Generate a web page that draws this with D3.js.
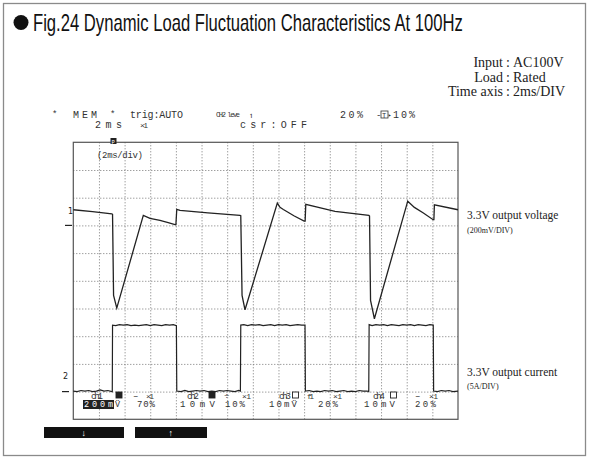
<!DOCTYPE html>
<html><head><meta charset="utf-8">
<script src="https://cdn.jsdelivr.net/npm/d3@7"></script>
<style>body{margin:0;background:#fff}svg{display:block}</style>
</head><body><svg id="c" width="589" height="472"></svg>
<script>
// ---- data ----
// Channel 1: 3.3V output voltage, mV relative to marker "1" (200 mV/div)
const voltT  = [0, 1.5, 3.0, 3.06, 3.14, 3.39, 5.46, 5.98, 6.76, 7.4, 7.93, 8.0, 8.07, 8.32, 10.5, 13.0, 13.06, 13.16, 13.39, 15.91, 16.12, 16.38, 17.2, 18.0, 18.08, 18.13, 20.41, 23.05, 23.1, 23.18, 23.48, 26.08, 26.6, 27.3, 28.06, 28.12, 28.16, 30];
const voltMV = [113, 100, 84, 80, -505, -597, 72, 51, 36, 20, 5, 5, 116, 108, 90, 72, 70, -505, -609, 161, 130, 115, 70, 31, 31, 152, 101, 72, 68, -542, -674, 175, 130, 90, 41, 41, 149, 113];
// Channel 2: 3.3V output current, A relative to marker "2" (5 A/div)
const currT = [0,0.3,0.6,0.9,1.2,1.5,1.8,2.1,2.4,2.7,3.0,3.04,3.06,
  3.3,3.6,3.9,4.2,4.5,4.8,5.1,5.4,5.7,6.0,6.3,6.6,6.9,7.2,7.5,7.8,8.04,8.07,
  8.4,8.7,9.0,9.3,9.6,9.9,10.2,10.5,10.8,11.1,11.4,11.7,12.0,12.3,12.6,12.9,13.03,13.06,
  13.3,13.6,13.9,14.2,14.5,14.8,15.1,15.4,15.7,16.0,16.3,16.6,16.9,17.2,17.5,17.8,18.07,18.1,
  18.4,18.7,19.0,19.3,19.6,19.9,20.2,20.5,20.8,21.1,21.4,21.7,22.0,22.3,22.6,22.9,23.04,23.07,
  23.3,23.6,23.9,24.2,24.5,24.8,25.1,25.4,25.7,26.0,26.3,26.6,26.9,27.2,27.5,27.8,28.07,28.1,
  28.4,28.7,29.0,29.3,29.6,30.0];
const currA = [0.1,0.0,0.2,0.1,0.2,0.0,0.1,0.3,0.1,0.2,0.0,0.0,12.0,
  11.9,12.1,12.0,12.1,11.9,12.0,11.9,12.0,12.1,11.9,12.1,12.0,11.9,12.1,12.0,12.1,11.9,0.1,
  0.0,0.2,0.0,0.1,0.2,0.1,0.2,0.0,0.1,0.0,0.2,0.1,0.2,0.1,0.0,0.2,0.1,12.0,
  12.1,11.9,12.1,12.0,12.1,11.9,12.0,12.1,11.9,12.1,12.0,12.1,11.9,12.0,12.1,12.0,12.0,0.1,
  0.2,0.0,0.1,0.0,0.2,0.1,0.2,0.0,0.1,0.2,0.0,0.1,0.0,0.2,0.1,0.1,0.0,12.1,
  11.9,12.1,12.0,12.1,11.9,12.1,12.0,11.9,12.1,12.0,12.1,11.9,12.1,12.0,11.9,12.1,12.0,0.1,
  0.0,0.2,0.1,0.2,0.0,0.1];
const timeDomain = [0, 30];      // ms, 2 ms/div x 15 div
const divDomain = [0, 10];       // vertical divisions
const ch1Ref = 7, ch2Ref = 1;    // marker positions in divisions
const mVperDiv = 200, AperDiv = 5;
const title = "Fig.24  Dynamic Load Fluctuation Characteristics At 100Hz";
const conditions = [["Input", "AC100V"], ["Load", "Rated"], ["Time axis", "2ms/DIV"]];

// ---- drawing ----
const svg = d3.select("#c");
const X0 = 73.3, X1 = 458, Y0 = 142.3, Y1 = 419.3;
const x = d3.scaleLinear().domain(timeDomain).range([X0, X1]);
const y = d3.scaleLinear().domain(divDomain).range([Y1, Y0]);

svg.append("rect").attr("x", 3.5).attr("y", 3.5).attr("width", 582).attr("height", 452)
  .attr("fill", "none").attr("stroke", "#8a8a8a").attr("stroke-width", 1.3);

// title (condensed by horizontal scaling to the reference width)
svg.append("circle").attr("cx", 21).attr("cy", 22.5).attr("r", 7.5).attr("fill", "#111");
const tg = svg.append("g");
const tt = tg.append("text").attr("x", 0).attr("y", 0).text(title)
  .attr("font-family", "'Liberation Sans',Arial,sans-serif")
  .attr("font-size", 23).attr("fill", "#111");
const tw = tt.node().getComputedTextLength();
tg.attr("transform", `translate(33,31) scale(${430 / tw},1)`);

// conditions
const cg = svg.append("g").attr("font-family", "'Liberation Serif','DejaVu Serif',serif")
  .attr("font-size", 14).attr("fill", "#222");
conditions.forEach((c, i) => {
  const yy = 67 + i * 14.5;
  cg.append("text").attr("x", 503).attr("y", yy).attr("text-anchor", "end").text(c[0]);
  cg.append("text").attr("x", 508).attr("y", yy).attr("text-anchor", "middle").text(":");
  cg.append("text").attr("x", 513).attr("y", yy).text(c[1]);
});

// grid via axes
const gx = svg.append("g").attr("transform", `translate(0,${Y1})`)
  .call(d3.axisBottom(x).tickValues(d3.range(2, 30, 2)).tickSize(-(Y1 - Y0)).tickFormat(""));
const gy = svg.append("g").attr("transform", `translate(${X0},0)`)
  .call(d3.axisLeft(y).tickValues(d3.range(1, 10)).tickSize(-(X1 - X0)).tickFormat(""));
[gx, gy].forEach(g => {
  g.select(".domain").remove();
  g.selectAll("line").attr("stroke", "#777").attr("stroke-width", 1).attr("stroke-dasharray", "1,2");
});

// frame
svg.append("rect").attr("x", X0).attr("y", Y0).attr("width", X1 - X0).attr("height", Y1 - Y0)
  .attr("fill", "none").attr("stroke", "#555").attr("stroke-width", 1.2);

// traces
const line = d3.line().x(d => x(d[0])).y(d => y(d[1]));
svg.append("path").datum(voltT.map((t, i) => [t, ch1Ref + voltMV[i] / mVperDiv]))
  .attr("d", line).attr("fill", "none").attr("stroke", "#222").attr("stroke-width", 1.3);
svg.append("path").datum(currT.map((t, i) => [t, ch2Ref + currA[i] / AperDiv]))
  .attr("d", line).attr("fill", "none").attr("stroke", "#222").attr("stroke-width", 1.2);

// channel markers
const mk = svg.append("g").attr("font-family", "'DejaVu Sans',sans-serif").attr("font-size", 8).attr("fill", "#222");
mk.append("text").attr("x", 68).attr("y", y(ch1Ref) - 11).text("1");
mk.append("line").attr("x1", 65).attr("x2", 72).attr("y1", y(ch1Ref)).attr("y2", y(ch1Ref)).attr("stroke", "#222").attr("stroke-width", 1.2);
mk.append("text").attr("x", 63).attr("y", y(ch2Ref) - 13).text("2");
mk.append("line").attr("x1", 62).attr("x2", 69).attr("y1", y(ch2Ref)).attr("y2", y(ch2Ref)).attr("stroke", "#222").attr("stroke-width", 1.2);

// scope text helper (letter-spaced monospace)
function st(xp, yp, s, size, len, fill) {
  const t = svg.append("text").attr("x", xp).attr("y", yp).text(s)
    .attr("font-family", "'Liberation Mono','DejaVu Sans Mono',monospace")
    .attr("font-size", size).attr("fill", fill || "#333");
  if (len) t.attr("textLength", len).attr("lengthAdjust", "spacing");
  return t;
}
// header
st(52, 117, "*", 9);
st(73, 118, "MEM", 10, 24);
st(110, 117, "*", 9);
st(130, 118, "trig:AUTO", 10, 53);
st(216, 117, "CH2 leve", 7, 24);
st(249, 118, "↿", 8);
st(340, 118, "20%", 10, 23);
st(376, 118, "-", 9);
svg.append("rect").attr("x", 381).attr("y", 111).attr("width", 7).attr("height", 7).attr("fill", "none").attr("stroke", "#333").attr("stroke-width", 0.8);
st(382, 117.5, "T", 7);
st(388, 117, "▸", 6);
st(393, 118, "10%", 10, 22);
st(95, 127.5, "2ms", 10, 27);
st(140, 127.5, "×1", 8, 8);
st(240, 127.5, "csr:OFF", 10, 67);

// trigger position marker and timebase
svg.append("rect").attr("x", 110.5).attr("y", 138).attr("width", 6).attr("height", 6).attr("fill", "#222");
st(111.5, 143.5, "P", 5.5, null, "#fff");
st(97, 158, "(2ms/div)", 9, 46);

// bottom status rows
const r1 = 398.5, r2 = 407;
function box(xp, filled) {
  svg.append("rect").attr("x", xp).attr("y", 392).attr("width", 6).attr("height", 6)
    .attr("fill", filled ? "#222" : "#fff").attr("stroke", "#222").attr("stroke-width", 0.9);
}
st(91, r1, "ch1", 9, 12); box(116, true); st(133, r1, "–", 9); st(146, r1, "×1", 8, 8);
st(187, r1, "ch2", 9, 12); box(209, true); st(224, r1, "÷", 9); st(242, r1, "×1", 8, 9);
st(279, r1, "ch3", 9, 12); box(292.5, false); st(307, r1, "f1", 8, 7); st(333, r1, "×1", 8, 9);
st(373, r1, "ch4", 9, 12); box(390.5, false); st(415, r1, "–", 9); st(429, r1, "×1", 8, 9);
svg.append("rect").attr("x", 83).attr("y", 400).attr("width", 31).attr("height", 9).attr("fill", "#222");
st(84, r2, "200m", 8.5, 29, "#fff");
st(115, r2, "V\u0308", 8.5);
st(137, r2, "70%", 9, 18);
st(180, r2, "10mV", 9, 35);
st(225, r2, "10%", 9, 20);
st(269, r2, "10mV\u0308", 9, 28);
st(318, r2, "20%", 9, 20);
st(364, r2, "10mV", 9, 31);
st(415, r2, "20%", 9, 21);

// right-hand labels
const lg = svg.append("g").attr("font-family", "'Liberation Serif','DejaVu Serif',serif").attr("fill", "#222");
lg.append("text").attr("x", 467).attr("y", 219).attr("font-size", 11.5).text("3.3V output voltage");
lg.append("text").attr("x", 467).attr("y", 233).attr("font-size", 8).text("(200mV/DIV)");
lg.append("text").attr("x", 467).attr("y", 376).attr("font-size", 11.5).text("3.3V output current");
lg.append("text").attr("x", 467).attr("y", 389).attr("font-size", 8).text("(5A/DIV)");

// bottom soft-key bars
svg.append("rect").attr("x", 44).attr("y", 427).attr("width", 80).attr("height", 11).attr("fill", "#111");
svg.append("rect").attr("x", 135).attr("y", 427).attr("width", 72).attr("height", 11).attr("fill", "#111");
st(81, 436, "↓", 9, null, "#fff");
st(168, 436, "↑", 9, null, "#fff");
</script></body></html>
